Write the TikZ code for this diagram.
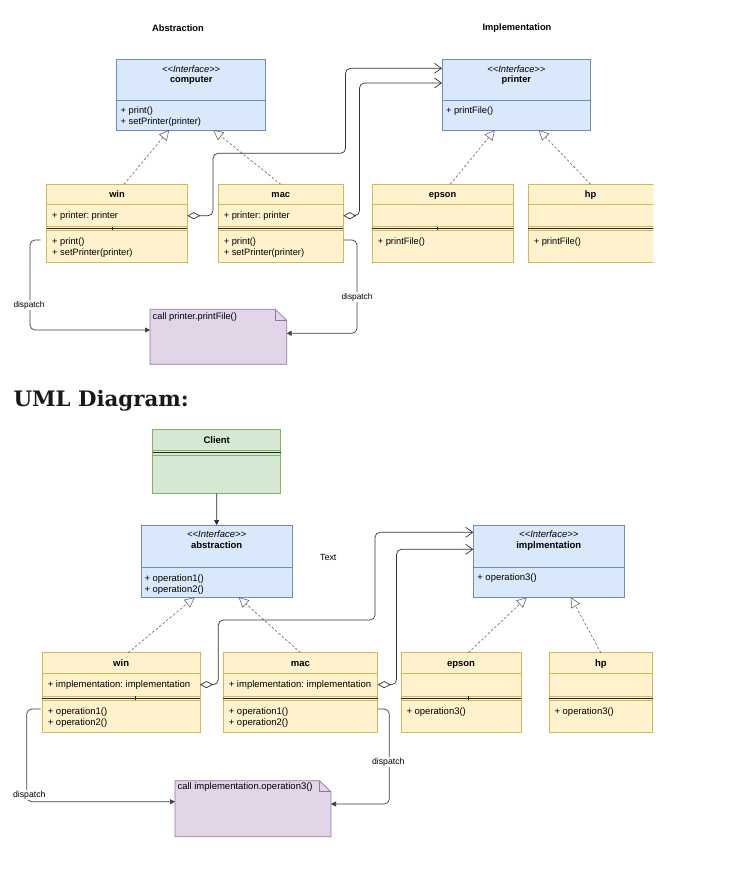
\documentclass[tikz,border=0pt]{standalone}
\usepackage{fontspec}
\setmainfont{Liberation Sans}
\newfontfamily\slabfont{DejaVu Serif}
\usetikzlibrary{arrows.meta}
\definecolor{ifill}{HTML}{DAE8FC}
\definecolor{idraw}{HTML}{6C8EBF}
\definecolor{cfill}{HTML}{FFF2CC}
\definecolor{cdraw}{HTML}{D6B656}
\definecolor{gfill}{HTML}{D5E8D4}
\definecolor{gdraw}{HTML}{82B366}
\definecolor{nfill}{HTML}{E1D5E7}
\definecolor{ndraw}{HTML}{9673A6}
\newcommand\fsTop{\fontsize{9.3}{11}\selectfont}
\newcommand\fsBot{\fontsize{9.5}{11.6}\selectfont}
\newcommand\stereo{\textit{<\kern0pt<Interface>\kern0pt>}}
\frenchspacing

\begin{document}
\begin{tikzpicture}[x=1pt,y=-1pt,
  every node/.style={inner sep=0pt,outer sep=0pt},
  iface/.style={fill=ifill,draw=idraw,line width=0.7pt},
  cls/.style={fill=cfill,draw=cdraw,line width=0.7pt,text height=6.8pt,text depth=0pt},
  client/.style={fill=gfill,draw=gdraw,line width=0.7pt},
  notebox/.style={fill=nfill,draw=ndraw,line width=0.7pt},
  sep/.style={draw=black!85,line width=0.8pt},
  tick/.style={draw=black!85,line width=1.3pt},
  realize/.style={draw=black!60,line width=0.6pt,dash pattern=on 2.5pt off 2pt,-{Triangle[open,length=10pt,width=10pt]}},
  aggr/.style={draw=black!80,line width=0.7pt,rounded corners=5pt,{Diamond[open,length=13pt,width=7pt]}-{Straight Barb[length=7pt,width=10pt]}},
  dispatch/.style={draw=black!75,line width=0.7pt,rounded corners=5pt,-{Triangle[length=5pt,width=5pt]}},
  assoc/.style={draw=black!85,line width=0.7pt,-{Triangle[length=5pt,width=5pt]}},
  lbl/.style={fill=white,inner sep=0.8pt},
]
\useasboundingbox (0,0) rectangle (744,889);
\fill[white] (0,0) rectangle (744,889);

\begin{scope}[font=\fsTop]
\node[font=\fsTop\bfseries] (abstractionT) at (178,28) {Abstraction};
\node[font=\fsTop\bfseries] (implementationT) at (517,28) {Implementation};

\node[iface,minimum width=149,minimum height=41.4] (computerH) at (191.2,80) {};
\node[iface,minimum width=149,minimum height=29.3,anchor=north] (computerM) at (computerH.south) {};
\node[anchor=north,align=center] (computerHt) at ([yshift=-6.3]computerH.north) {\stereo\\[-1pt]\textbf{computer}};
\node[anchor=north west,align=left] (computerMt) at ([xshift=4,yshift=-6]computerM.north west) {+ print()\\+ setPrinter(printer)};

\node[iface,minimum width=148.7,minimum height=41.4] (printerH) at (516.35,80) {};
\node[iface,minimum width=148.7,minimum height=29.3,anchor=north] (printerM) at (printerH.south) {};
\node[anchor=north,align=center] (printerHt) at ([yshift=-6.3]printerH.north) {\stereo\\[-1pt]\textbf{printer}};
\node[anchor=north west,align=left] (printerMt) at ([xshift=4,yshift=-6.5]printerM.north west) {+ printFile()};

\node[cls,minimum width=140.6,minimum height=78.4] (win) at (117,223.5) {};
\node[cls,minimum width=140.6,minimum height=20.4,anchor=north] (winH) at (win.north) {\textbf{win}};
\node[cls,minimum width=140.6,minimum height=22,anchor=north] (winA) at (winH.south) {};
\node[cls,minimum width=140.6,minimum height=32.4,anchor=south] (winM) at (win.south) {};
\draw[sep] ([yshift=-1.8]winA.south west) -- ([yshift=-1.8]winA.south east);
\draw[tick] (112.3,226.6) -- (112.3,230.4);
\node[anchor=west] (winAt) at ([xshift=5.5]winA.west) {+ printer: printer};
\node[anchor=north west,align=left] (winMt) at ([xshift=5.5,yshift=-7.3]winM.north west) {+ print()\\+ setPrinter(printer)};

\node[cls,minimum width=125,minimum height=78.4] (mac) at (280.8,223.5) {};
\node[cls,minimum width=125,minimum height=20.4,anchor=north] (macH) at (mac.north) {\textbf{mac}};
\node[cls,minimum width=125,minimum height=22,anchor=north] (macA) at (macH.south) {};
\node[cls,minimum width=125,minimum height=32.4,anchor=south] (macM) at (mac.south) {};
\draw[sep] ([yshift=-1.8]macA.south west) -- ([yshift=-1.8]macA.south east);
\node[anchor=west] (macAt) at ([xshift=5.5]macA.west) {+ printer: printer};
\node[anchor=north west,align=left] (macMt) at ([xshift=5.5,yshift=-7.3]macM.north west) {+ print()\\+ setPrinter(printer)};

\node[cls,minimum width=140.7,minimum height=78.4] (epson) at (442.65,223.5) {};
\node[cls,minimum width=140.7,minimum height=20.4,anchor=north] (epsonH) at (epson.north) {\textbf{epson}};
\node[cls,minimum width=140.7,minimum height=22,anchor=north] (epsonA) at (epsonH.south) {};
\node[cls,minimum width=140.7,minimum height=32.4,anchor=south] (epsonM) at (epson.south) {};
\draw[sep] ([yshift=-1.8]epsonA.south west) -- ([yshift=-1.8]epsonA.south east);
\draw[tick] (437.7,226.6) -- (437.7,230.4);
\node[anchor=north west] (epsonMt) at ([xshift=5.5,yshift=-7.3]epsonM.north west) {+ printFile()};

\begin{scope}
\clip (0,150) rectangle (653.3,300);
\node[cls,minimum width=127,minimum height=78.4] (hp) at (591.8,223.5) {};
\node[cls,minimum width=127,minimum height=20.4,anchor=north] (hpH) at (hp.north) {};
\node[cls,minimum width=127,minimum height=22,anchor=north] (hpA) at (hpH.south) {};
\node[cls,minimum width=127,minimum height=32.4,anchor=south] (hpM) at (hp.south) {};
\draw[sep] ([yshift=-1.8]hpA.south west) -- ([yshift=-1.8]hpA.south east);
\end{scope}
\node[font=\fsTop\bfseries,text height=6.8pt,text depth=0pt] (hpHt) at ([xshift=-1.2]hpH.center) {hp};
\node[anchor=north west] (hpMt) at ([xshift=5.5,yshift=-7.3]hpM.north west) {+ printFile()};

\node[minimum width=136.7,minimum height=55,anchor=north west] (note1) at (150,309.3) {};
\filldraw[notebox] (note1.north west) -- ([xshift=-11.5]note1.north east) -- ([yshift=-11]note1.north east) -- (note1.south east) -- (note1.south west) -- cycle;
\draw[notebox,fill=none] ([xshift=-11.5]note1.north east) -- ([xshift=-11.5,yshift=-11]note1.north east) -- ([yshift=-11]note1.north east);
\node[anchor=north west] (note1t) at ([xshift=2.7,yshift=-3]note1.north west) {call printer.printFile()};

\draw[realize] ([xshift=7]winH.north) -- ([xshift=-22]computerM.south);
\draw[realize] (macH.north) -- ([xshift=22]computerM.south);
\draw[realize] ([xshift=7.5]epsonH.north) -- ([xshift=-21.5]printerM.south);
\draw[realize] ([xshift=-1.2]hpH.north) -- ([xshift=22.5]printerM.south);

\coordinate (t1) at (213,153.3);
\coordinate (t2) at (345.5,68.3);
\coordinate (t3) at (359.5,83);
\draw[aggr] (winA.east) -| (t1) -| (t2) -- (printerH.west |- t2);
\draw[aggr] (macA.east) -| (t3) -- (printerH.west |- t3);

\coordinate (t4) at (30,330);
\coordinate (t5) at (357,333.3);
\draw[dispatch] ([xshift=-6,yshift=6.5]winM.west) -| (t4) -- (note1.west |- t4);
\draw[dispatch] ([yshift=6.5]macM.east) -| (t5) -- (note1.east |- t5);
\node[lbl,font=\fontsize{8.3}{9}\selectfont] (dispatch1) at (29,305) {dispatch};
\node[lbl,font=\fontsize{8.3}{9}\selectfont] (dispatch2) at (357,297) {dispatch};
\end{scope}

\node[anchor=base west,text=black!90,font=\slabfont\bfseries\fontsize{21.3}{25}\selectfont] (umlTitle) at (13.5,406.7) {UML Diagram:};

\begin{scope}[font=\fsBot]
\node[client,minimum width=128,minimum height=64] (client) at (216.7,461.3) {};
\node[client,minimum width=128,minimum height=20.7,anchor=north] (clientH) at (client.north) {\textbf{Client}};
\node[client,minimum width=128,minimum height=38,anchor=south] (clientM) at (client.south) {};
\draw[sep] ([yshift=-2.7]clientH.south west) -- ([yshift=-2.7]clientH.south east);

\node[iface,minimum width=151.3,minimum height=42.3] (abstractionH) at (216.65,546.15) {};
\node[iface,minimum width=151.3,minimum height=30,anchor=north] (abstractionM) at (abstractionH.south) {};
\node[anchor=north,align=center] (abstractionHt) at ([yshift=-5.8]abstractionH.north) {\stereo\\[-1pt]\textbf{abstraction}};
\node[anchor=north west,align=left] (abstractionMt) at ([xshift=3.5,yshift=-7]abstractionM.north west) {+ operation1()\\+ operation2()};

\node[iface,minimum width=151,minimum height=42.3] (implH) at (548.8,546.15) {};
\node[iface,minimum width=151,minimum height=30,anchor=north] (implM) at (implH.south) {};
\node[anchor=north,align=center] (implHt) at ([yshift=-5.8]implH.north) {\stereo\\[-1pt]\textbf{implmentation}};
\node[anchor=north west] (implMt) at ([xshift=4,yshift=-6.6]implM.north west) {+ operation3()};

\node[font=\fontsize{8.9}{10}\selectfont] (textLabel) at (328.3,557.3) {Text};

\node[cls,minimum width=157.7,minimum height=80] (win2) at (121.15,692.7) {};
\node[cls,minimum width=157.7,minimum height=20.6,anchor=north] (win2H) at (win2.north) {\textbf{win}};
\node[cls,minimum width=157.7,minimum height=22.7,anchor=north] (win2A) at (win2H.south) {};
\node[cls,minimum width=157.7,minimum height=32.7,anchor=south] (win2M) at (win2.south) {};
\draw[sep] ([yshift=-2]win2A.south west) -- ([yshift=-2]win2A.south east);
\draw[tick] (135.7,696) -- (135.7,700);
\node[anchor=west] (win2At) at ([xshift=5.5]win2A.west) {+ implementation: implementation};
\node[anchor=north west,align=left] (win2Mt) at ([xshift=5.5,yshift=-7.3]win2M.north west) {+ operation1()\\+ operation2()};

\node[cls,minimum width=154.4,minimum height=80] (mac2) at (300.5,692.7) {};
\node[cls,minimum width=154.4,minimum height=20.6,anchor=north] (mac2H) at (mac2.north) {\textbf{mac}};
\node[cls,minimum width=154.4,minimum height=22.7,anchor=north] (mac2A) at (mac2H.south) {};
\node[cls,minimum width=154.4,minimum height=32.7,anchor=south] (mac2M) at (mac2.south) {};
\draw[sep] ([yshift=-2]mac2A.south west) -- ([yshift=-2]mac2A.south east);
\node[anchor=west] (mac2At) at ([xshift=5.5]mac2A.west) {+ implementation: implementation};
\node[anchor=north west,align=left] (mac2Mt) at ([xshift=5.5,yshift=-7.3]mac2M.north west) {+ operation1()\\+ operation2()};

\node[cls,minimum width=120,minimum height=80] (epson2) at (461,692.7) {};
\node[cls,minimum width=120,minimum height=20.6,anchor=north] (epson2H) at (epson2.north) {\textbf{epson}};
\node[cls,minimum width=120,minimum height=22.7,anchor=north] (epson2A) at (epson2H.south) {};
\node[cls,minimum width=120,minimum height=32.7,anchor=south] (epson2M) at (epson2.south) {};
\draw[sep] ([yshift=-2]epson2A.south west) -- ([yshift=-2]epson2A.south east);
\draw[tick] (468.3,696) -- (468.3,700);
\node[anchor=north west] (epson2Mt) at ([xshift=5.5,yshift=-7.3]epson2M.north west) {+ operation3()};

\node[cls,minimum width=103.7,minimum height=80] (hp2) at (600.85,692.7) {};
\node[cls,minimum width=103.7,minimum height=20.6,anchor=north] (hp2H) at (hp2.north) {\textbf{hp}};
\node[cls,minimum width=103.7,minimum height=22.7,anchor=north] (hp2A) at (hp2H.south) {};
\node[cls,minimum width=103.7,minimum height=32.7,anchor=south] (hp2M) at (hp2.south) {};
\draw[sep] ([yshift=-2]hp2A.south west) -- ([yshift=-2]hp2A.south east);
\node[anchor=north west] (hp2Mt) at ([xshift=5.5,yshift=-7.3]hp2M.north west) {+ operation3()};

\node[minimum width=156,minimum height=56,anchor=north west] (note2) at (175,780.7) {};
\filldraw[notebox] (note2.north west) -- ([xshift=-11.5]note2.north east) -- ([yshift=-11]note2.north east) -- (note2.south east) -- (note2.south west) -- cycle;
\draw[notebox,fill=none] ([xshift=-11.5]note2.north east) -- ([xshift=-11.5,yshift=-11]note2.north east) -- ([yshift=-11]note2.north east);
\node[anchor=north west] (note2t) at ([xshift=2.5,yshift=-1.8]note2.north west) {call implementation.operation3()};

\draw[assoc] (client.south) -- (abstractionH.north);

\draw[realize] ([xshift=7]win2H.north) -- ([xshift=-22]abstractionM.south);
\draw[realize] (mac2H.north) -- ([xshift=22]abstractionM.south);
\draw[realize] ([xshift=7.3]epson2H.north) -- ([xshift=-22]implM.south);
\draw[realize] (hp2H.north) -- ([xshift=22]implM.south);

\coordinate (b1) at (218.3,620);
\coordinate (b2) at (375,532.3);
\coordinate (b3) at (396.5,549.3);
\draw[aggr] (win2A.east) -| (b1) -| (b2) -- (implH.west |- b2);
\draw[aggr] (mac2A.east) -| (b3) -- (implH.west |- b3);

\coordinate (b4) at (26.7,801.7);
\coordinate (b5) at (389.3,804);
\draw[dispatch] ([xshift=-1.6,yshift=7.35]win2M.west) -| (b4) -- (note2.west |- b4);
\draw[dispatch] ([yshift=7.35]mac2M.east) -| (b5) -- (note2.east |- b5);
\node[lbl,font=\fontsize{8.7}{9}\selectfont] (dispatch3) at (29.3,795) {dispatch};
\node[lbl,font=\fontsize{8.7}{9}\selectfont] (dispatch4) at (388.3,762.3) {dispatch};
\end{scope}
\end{tikzpicture}
\end{document}
